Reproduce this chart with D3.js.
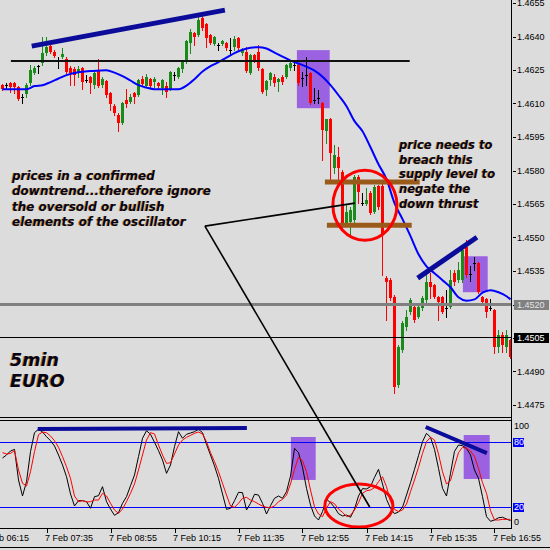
<!DOCTYPE html>
<html>
<head>
<meta charset="utf-8">
<title>EURO 5min</title>
<script src="https://cdn.jsdelivr.net/npm/d3@7/dist/d3.min.js"></script>
<style>
  html, body { margin: 0; padding: 0; background: #dcdcdc; }
  svg { display: block; }
</style>
</head>
<body>
<svg id="chart" width="550" height="550"></svg>
<script>
// ---------- 5-minute EUR bars, 7 Feb 06:40 .. 17:15 ----------
const opens = [1.46182,1.46182,1.46191,1.46191,1.46173,1.46128,1.46142,1.46191,1.46236,1.46267,
1.46281,1.46326,1.46357,1.46330,1.46294,1.46308,1.46299,1.46258,1.46254,1.46236,
1.46258,1.46205,1.46218,1.46182,1.46245,1.46182,1.46200,1.46146,1.46088,1.46048,
1.46012,1.46115,1.46106,1.46146,1.46137,1.46209,1.46178,1.46209,1.46196,1.46191,
1.46169,1.46178,1.46164,1.46227,1.46218,1.46254,1.46285,1.46370,1.46415,1.46406,
1.46482,1.46455,1.46406,1.46366,1.46361,1.46366,1.46370,1.46339,1.46352,1.46393,
1.46326,1.46330,1.46236,1.46317,1.46330,1.46254,1.46160,1.46205,1.46218,1.46196,
1.46218,1.46218,1.46258,1.46272,1.46272,1.46214,1.46227,1.46236,1.46115,1.46124,
1.46102,1.45976,1.46030,1.45810,1.45860,1.45792,1.45564,1.45568,1.45577,1.45770,
1.45654,1.45649,1.45698,1.45613,1.45730,1.45730,1.45318,1.45309,1.45232,1.44838,
1.44995,1.45098,1.45165,1.45188,1.45143,1.45183,1.45219,1.45300,1.45286,1.45232,
1.45232,1.45183,1.45188,1.45340,1.45309,1.45309,1.45456,1.45335,1.45385,1.45385,
1.45232,1.45223,1.45183,1.45174,1.45008,1.45062,1.45008,1.45040];

const highs = [1.46187,1.46191,1.46196,1.46196,1.46178,1.46142,1.46191,1.46272,1.46267,1.46272,
1.46397,1.46397,1.46366,1.46339,1.46308,1.46348,1.46308,1.46267,1.46263,1.46267,
1.46263,1.46227,1.46223,1.46245,1.46299,1.46218,1.46205,1.46151,1.46097,1.46057,
1.46106,1.46164,1.46142,1.46151,1.46209,1.46223,1.46231,1.46214,1.46218,1.46196,
1.46209,1.46196,1.46245,1.46240,1.46263,1.46294,1.46384,1.46433,1.46420,1.46487,
1.46491,1.46460,1.46411,1.46402,1.46370,1.46384,1.46375,1.46393,1.46402,1.46397,
1.46348,1.46352,1.46321,1.46321,1.46361,1.46258,1.46205,1.46240,1.46231,1.46214,
1.46227,1.46276,1.46285,1.46285,1.46276,1.46240,1.46308,1.46240,1.46169,1.46160,
1.46106,1.46030,1.46034,1.45913,1.45904,1.45801,1.45645,1.45636,1.45779,1.45779,
1.45698,1.45721,1.45707,1.45734,1.45734,1.45739,1.45327,1.45318,1.45241,1.45017,
1.45125,1.45174,1.45228,1.45197,1.45197,1.45237,1.45331,1.45340,1.45291,1.45237,
1.45237,1.45264,1.45353,1.45353,1.45389,1.45452,1.45488,1.45371,1.45412,1.45389,
1.45237,1.45228,1.45223,1.45179,1.45085,1.45076,1.45085,1.45044];

const lows = [1.46160,1.46169,1.46151,1.46146,1.46115,1.46102,1.46128,1.46182,1.46231,1.46236,
1.46272,1.46317,1.46326,1.46308,1.46258,1.46303,1.46236,1.46182,1.46182,1.46218,
1.46164,1.46196,1.46146,1.46169,1.46173,1.46173,1.46128,1.46070,1.46048,1.45976,
1.46007,1.46084,1.46102,1.46102,1.46133,1.46178,1.46173,1.46173,1.46173,1.46169,
1.46142,1.46128,1.46160,1.46205,1.46214,1.46240,1.46281,1.46326,1.46361,1.46402,
1.46429,1.46352,1.46366,1.46361,1.46339,1.46361,1.46339,1.46317,1.46339,1.46343,
1.46317,1.46240,1.46231,1.46285,1.46249,1.46146,1.46137,1.46182,1.46178,1.46155,
1.46187,1.46214,1.46249,1.46249,1.46182,1.46178,1.46182,1.46097,1.46102,1.46102,
1.45846,1.45922,1.45757,1.45788,1.45757,1.45537,1.45551,1.45501,1.45568,1.45654,
1.45645,1.45645,1.45604,1.45609,1.45627,1.45331,1.45129,1.45219,1.44802,1.44829,
1.44986,1.45085,1.45156,1.45120,1.45138,1.45174,1.45210,1.45228,1.45228,1.45129,
1.45161,1.45143,1.45183,1.45286,1.45300,1.45300,1.45322,1.45304,1.45353,1.45250,
1.45201,1.45143,1.45174,1.44982,1.44986,1.44986,1.44986,1.44959];

const closes = [1.46164,1.46182,1.46173,1.46173,1.46119,1.46128,1.46182,1.46249,1.46258,1.46267,
1.46326,1.46352,1.46330,1.46312,1.46294,1.46321,1.46240,1.46236,1.46227,1.46254,
1.46196,1.46205,1.46191,1.46236,1.46178,1.46209,1.46137,1.46097,1.46057,1.46012,
1.46102,1.46097,1.46128,1.46128,1.46205,1.46187,1.46218,1.46178,1.46209,1.46178,
1.46205,1.46151,1.46240,1.46227,1.46258,1.46290,1.46379,1.46420,1.46397,1.46473,
1.46438,1.46393,1.46370,1.46397,1.46361,1.46379,1.46348,1.46339,1.46388,1.46348,
1.46339,1.46245,1.46317,1.46294,1.46258,1.46151,1.46200,1.46236,1.46191,1.46209,
1.46196,1.46272,1.46281,1.46272,1.46191,1.46214,1.46227,1.46102,1.46115,1.46124,
1.45981,1.46030,1.45878,1.45869,1.45810,1.45546,1.45613,1.45622,1.45770,1.45703,
1.45654,1.45667,1.45609,1.45725,1.45636,1.45510,1.45300,1.45228,1.44829,1.45008,
1.45116,1.45143,1.45219,1.45129,1.45188,1.45228,1.45300,1.45277,1.45232,1.45210,
1.45165,1.45183,1.45309,1.45300,1.45353,1.45443,1.45331,1.45335,1.45385,1.45255,
1.45210,1.45165,1.45183,1.45008,1.45062,1.45017,1.45062,1.44964];

// moving average, sampled at these bars
const maBars = [0,6,8,10,12,14,16,19,22,26,28,30,32,34,36,38,44,46,48,50,52,54,56,58,60,62,64,66,68,70,
72,74,76,78,80,82,84,86,88,90,92,94,96,98,100,102,104,106,108,110,112,114,116,118,120,122,124,126,127];
const maValues = [1.46164,1.46164,1.46178,1.46182,1.46196,1.46212,1.46227,1.46240,1.46245,1.46249,
1.46238,1.46223,1.46203,1.46182,1.46171,1.46164,1.46164,1.46180,1.46209,1.46243,
1.46267,1.46285,1.46305,1.46326,1.46341,1.46350,1.46352,1.46346,1.46328,1.46310,
1.46292,1.46279,1.46265,1.46247,1.46220,1.46182,1.46137,1.46088,1.46021,1.45976,
1.45904,1.45828,1.45761,1.45654,1.45582,1.45506,1.45425,1.45371,1.45340,1.45309,
1.45277,1.45232,1.45217,1.45223,1.45253,1.45264,1.45255,1.45237,1.45223];

// stochastic oscillator: main (%K) and signal (%D)
const stochMain = [65.4,68.2,71.9,73.4,45.2,30.4,43.6,71.3,88.8,91.9,
89.4,85.1,81.4,76.5,68.2,59.0,48.2,32.3,21.2,26.1,
26.1,25.2,19.1,29.8,30.7,39.0,25.2,18.4,12.6,15.1,
23.7,29.8,39.9,49.8,66.7,83.6,90.6,87.3,79.9,72.2,
63.6,51.3,59.0,75.9,89.7,83.6,87.3,88.5,89.7,91.9,
88.8,78.0,68.2,58.1,46.7,32.3,18.1,19.1,26.1,33.8,
33.5,17.5,23.7,32.0,31.3,23.7,13.8,21.5,28.3,30.4,
28.3,34.4,48.8,74.3,70.4,56.8,37.5,22.1,12.0,8.3,
16.0,27.3,24.3,20.0,14.1,12.0,12.9,10.8,18.4,30.4,
37.2,36.9,39.0,47.6,55.0,41.5,27.3,19.1,14.1,15.7,
20.0,31.3,42.7,55.0,67.6,80.5,88.2,84.5,73.4,55.9,
37.5,30.4,51.3,71.6,77.4,76.8,74.3,68.2,54.4,46.7,
29.8,11.4,7.1,8.3,10.4,10.8,9.2,7.7];
const stochSignal = [70.4,69.1,69.7,72.2,54.4,42.1,39.6,52.8,71.3,86.9,
89.4,88.8,85.7,81.4,75.3,66.7,57.4,46.7,30.4,25.2,
26.1,24.9,25.2,26.7,26.7,32.9,30.4,23.7,17.5,14.4,
18.4,25.2,32.9,41.5,54.4,68.2,82.0,88.8,87.6,77.4,
68.2,60.5,61.1,69.1,77.4,82.0,84.5,86.3,88.2,89.4,
87.6,80.5,70.4,62.1,52.8,42.1,31.3,21.2,20.0,23.7,
28.3,29.2,26.7,25.2,23.0,21.2,20.0,19.7,21.2,25.2,
27.3,31.3,41.5,55.0,66.1,63.0,52.8,35.9,20.6,13.8,
11.4,19.1,25.2,23.3,18.4,15.4,11.4,12.6,17.5,24.3,
32.9,35.3,35.9,38.1,43.6,48.2,39.0,25.2,18.1,16.0,
17.5,23.0,34.4,45.2,56.8,69.7,80.5,84.5,82.0,69.1,
52.8,41.5,44.5,58.1,70.4,75.3,74.3,71.9,66.7,55.9,
42.7,32.9,16.9,8.3,8.3,8.9,8.9,8.9];

const priceTicks = [1.4655,1.4640,1.4625,1.4610,1.4595,1.4580,1.4565,1.4550,1.4535,1.4520,1.4505,1.4490,1.4475];
const timeTickBars = [-5,11,27,43,59,75,91,107,123];
const timeTickLabels = ["7 Feb 06:15","7 Feb 07:35","7 Feb 08:55","7 Feb 10:15","7 Feb 11:35",
                        "7 Feb 12:55","7 Feb 14:15","7 Feb 15:35","7 Feb 16:55"];
const oscTicks = [100, 80, 20, 0];
const oscLevels = [80, 20];
const levelLine = 1.4520;   // horizontal line object (grey)
const bidLine = 1.4505;     // current price line
const resistance = 1.4629;  // black horizontal line

// ---------- geometry ----------
const W = 550, H = 550;
const axisX = 511;
const mainBottom = 417, oscTop = 420, oscBottom = 528;

const x = d3.scaleLinear().domain([0, 127]).range([2.5, 510.5]);
const y = d3.scaleLinear().domain([1.4475, 1.4655]).range([405, 3]);
const yo = d3.scaleLinear().domain([0, 100]).range([529, 420.5]);

const svg = d3.select('#chart');
svg.append('rect').attr('width', W).attr('height', H).attr('fill', '#dcdcdc');

const defs = svg.append('defs');
defs.append('clipPath').attr('id', 'clipMain')
  .append('rect').attr('x', 0).attr('y', 0).attr('width', axisX).attr('height', mainBottom);
defs.append('clipPath').attr('id', 'clipOsc')
  .append('rect').attr('x', 0).attr('y', oscTop).attr('width', axisX).attr('height', oscBottom - oscTop);

const GREEN = '#1a8a1a', RED = '#ff0000', PURPLE = '#9a62e0', NAVY = '#0c0c9a', BROWN = '#9a5a1a';

// ---------- main price panel ----------
const main = svg.append('g').attr('clip-path', 'url(#clipMain)');

// highlighted zones (behind the bars)
const mainZones = [
  { i0: 73.6, i1: 81.8, p0: 1.46339, p1: 1.46079 },
  { i0: 115.1, i1: 121.3, p0: 1.45416, p1: 1.45255 }
];
main.selectAll('rect.zone').data(mainZones).join('rect')
  .attr('class', 'zone')
  .attr('x', d => x(d.i0)).attr('width', d => x(d.i1) - x(d.i0))
  .attr('y', d => y(d.p0)).attr('height', d => y(d.p1) - y(d.p0))
  .attr('fill', PURPLE);

// candles
const bars = d3.range(opens.length).map(i => ({
  i, o: opens[i], h: highs[i], l: lows[i], c: closes[i]
}));
const colorOf = d => d.c > d.o ? GREEN : (d.c < d.o ? RED : '#000');

const candles = main.append('g').attr('shape-rendering', 'crispEdges');
candles.selectAll('line.wick').data(bars).join('line')
  .attr('class', 'wick')
  .attr('x1', d => x(d.i)).attr('x2', d => x(d.i))
  .attr('y1', d => Math.round(y(d.h))).attr('y2', d => Math.round(y(d.l)) + 1)
  .attr('stroke', colorOf).attr('stroke-width', 1);
candles.selectAll('rect.body').data(bars).join('rect')
  .attr('class', 'body')
  .attr('x', d => x(d.i) - 1.5)
  .attr('width', 3)
  .attr('y', d => Math.round(y(Math.max(d.o, d.c))))
  .attr('height', d => Math.max(1, Math.round(y(Math.min(d.o, d.c))) - Math.round(y(Math.max(d.o, d.c)))))
  .attr('fill', colorOf);

// moving average
const maLine = d3.line()
  .x((d, k) => x(maBars[k]))
  .y(d => y(d))
  .curve(d3.curveMonotoneX);
main.append('path').attr('d', maLine(maValues))
  .attr('fill', 'none').attr('stroke', '#0000ff').attr('stroke-width', 2);

// horizontal levels
main.append('line')
  .attr('x1', 0).attr('x2', axisX).attr('y1', y(levelLine)).attr('y2', y(levelLine))
  .attr('stroke', '#808080').attr('stroke-width', 3);
main.append('line')
  .attr('x1', 0).attr('x2', axisX)
  .attr('y1', Math.round(y(bidLine)) - 0.5).attr('y2', Math.round(y(bidLine)) - 0.5)
  .attr('stroke', '#000').attr('stroke-width', 1);
main.append('line')
  .attr('x1', x(2.1)).attr('x2', x(101.8)).attr('y1', y(resistance)).attr('y2', y(resistance))
  .attr('stroke', '#111').attr('stroke-width', 2);

// supply band edges
const supplyEdges = [
  { i0: 80.6, i1: 104.3, p: 1.45748 },
  { i0: 81.1, i1: 102.3, p: 1.45555 }
];
main.selectAll('line.supply').data(supplyEdges).join('line')
  .attr('class', 'supply')
  .attr('x1', d => x(d.i0)).attr('x2', d => x(d.i1))
  .attr('y1', d => y(d.p)).attr('y2', d => y(d.p))
  .attr('stroke', BROWN).attr('stroke-width', 5);

// trend lines
const mainTrends = [
  { i0: 7.3, p0: 1.46357, i1: 55.6, p1: 1.46518 },
  { i0: 103.8, p0: 1.45318, i1: 118.6, p1: 1.45501 }
];
main.selectAll('line.trend').data(mainTrends).join('line')
  .attr('class', 'trend')
  .attr('x1', d => x(d.i0)).attr('y1', d => y(d.p0))
  .attr('x2', d => x(d.i1)).attr('y2', d => y(d.p1))
  .attr('stroke', NAVY).attr('stroke-width', 5);

// consolidation ellipse
const mainRing = { i0: 82.6, i1: 98.6, p0: 1.45801, p1: 1.45488 };
main.append('ellipse')
  .attr('cx', (x(mainRing.i0) + x(mainRing.i1)) / 2)
  .attr('cy', (y(mainRing.p0) + y(mainRing.p1)) / 2)
  .attr('rx', (x(mainRing.i1) - x(mainRing.i0)) / 2)
  .attr('ry', (y(mainRing.p1) - y(mainRing.p0)) / 2)
  .attr('fill', 'none').attr('stroke', '#ff0000').attr('stroke-width', 3);

// ---------- oscillator panel ----------
const osc = svg.append('g').attr('clip-path', 'url(#clipOsc)');

const oscZones = [
  { i0: 72.1, i1: 78.3, v0: 84.8, v1: 45.2 },
  { i0: 115.3, i1: 121.8, v0: 86.6, v1: 46.1 }
];
osc.selectAll('rect.zone').data(oscZones).join('rect')
  .attr('class', 'zone')
  .attr('x', d => x(d.i0)).attr('width', d => x(d.i1) - x(d.i0))
  .attr('y', d => yo(d.v0)).attr('height', d => yo(d.v1) - yo(d.v0))
  .attr('fill', PURPLE);

osc.selectAll('line.level').data(oscLevels).join('line')
  .attr('class', 'level')
  .attr('x1', 0).attr('x2', axisX)
  .attr('y1', d => Math.round(yo(d)) + 0.5).attr('y2', d => Math.round(yo(d)) + 0.5)
  .attr('stroke', '#0000ff').attr('stroke-width', 1);

const stochLine = d3.line().x((d, i) => x(i)).y(d => yo(d));
osc.append('path').attr('d', stochLine(stochMain))
  .attr('fill', 'none').attr('stroke', '#000').attr('stroke-width', 1);
osc.append('path').attr('d', stochLine(stochSignal))
  .attr('fill', 'none').attr('stroke', '#ff0000').attr('stroke-width', 1);

const oscTrends = [
  { i0: 8.8, v0: 92.2, i1: 61.1, v1: 93.1 },
  { i0: 105.8, v0: 94.0, i1: 121.1, v1: 70.0 }
];
osc.selectAll('line.trend').data(oscTrends).join('line')
  .attr('class', 'trend')
  .attr('x1', d => x(d.i0)).attr('y1', d => yo(d.v0))
  .attr('x2', d => x(d.i1)).attr('y2', d => yo(d.v1))
  .attr('stroke', NAVY).attr('stroke-width', 4);

const oscRing = { i0: 80.6, i1: 97.6, v0: 41.5, v1: 1.8 };
osc.append('ellipse')
  .attr('cx', (x(oscRing.i0) + x(oscRing.i1)) / 2)
  .attr('cy', (yo(oscRing.v0) + yo(oscRing.v1)) / 2)
  .attr('rx', (x(oscRing.i1) - x(oscRing.i0)) / 2)
  .attr('ry', (yo(oscRing.v1) - yo(oscRing.v0)) / 2)
  .attr('fill', 'none').attr('stroke', '#ff0000').attr('stroke-width', 3);

// ---------- frames and axes ----------
const frame = svg.append('g').attr('shape-rendering', 'crispEdges').attr('stroke', '#000');
frame.append('line').attr('x1', axisX + 0.5).attr('x2', axisX + 0.5).attr('y1', 0).attr('y2', oscBottom + 1);
frame.append('line').attr('x1', 0).attr('x2', axisX).attr('y1', mainBottom + 0.5).attr('y2', mainBottom + 0.5);
frame.append('line').attr('x1', 0).attr('x2', axisX).attr('y1', oscTop + 0.5).attr('y2', oscTop + 0.5);
frame.append('line').attr('x1', 0).attr('x2', axisX).attr('y1', oscBottom + 0.5).attr('y2', oscBottom + 0.5);
frame.append('line').attr('x1', 0).attr('x2', W).attr('y1', 547.5).attr('y2', 547.5);

const AXIS_FONT = '"Liberation Sans", Arial, sans-serif';

// price axis
const pAxis = svg.append('g');
pAxis.selectAll('line').data(priceTicks).join('line')
  .attr('x1', axisX + 2).attr('x2', axisX + 5)
  .attr('y1', d => Math.round(y(d)) + 0.5).attr('y2', d => Math.round(y(d)) + 0.5)
  .attr('stroke', '#000').attr('shape-rendering', 'crispEdges');
pAxis.selectAll('text').data(priceTicks).join('text')
  .attr('x', axisX + 6).attr('y', d => y(d)).attr('dy', '0.35em')
  .attr('font-family', AXIS_FONT).attr('font-size', 9).attr('fill', '#000')
  .text(d => d.toFixed(4));

// price tags for the two horizontal lines
const tags = [
  { p: levelLine, bg: '#808080', fg: '#e4e4e4' },
  { p: bidLine, bg: '#000000', fg: '#ffffff' }
];
const tagG = svg.append('g');
tagG.selectAll('rect').data(tags).join('rect')
  .attr('x', axisX + 3).attr('width', 35)
  .attr('y', d => Math.round(y(d.p)) - 5).attr('height', 10)
  .attr('fill', d => d.bg);
tagG.selectAll('text').data(tags).join('text')
  .attr('x', axisX + 6).attr('y', d => y(d.p)).attr('dy', '0.35em')
  .attr('font-family', AXIS_FONT).attr('font-size', 9).attr('fill', d => d.fg)
  .text(d => d.p.toFixed(4));

// oscillator axis
const oAxis = svg.append('g');
const oscLabelY = v => Math.min(Math.max(yo(v), oscTop + 6), oscBottom - 6);
oAxis.selectAll('rect').data(oscLevels).join('rect')
  .attr('x', axisX + 2).attr('width', 11)
  .attr('y', d => Math.round(yo(d)) - 4).attr('height', 9)
  .attr('fill', '#0000ff');
oAxis.selectAll('text').data(oscTicks).join('text')
  .attr('x', axisX + 3).attr('y', d => oscLabelY(d)).attr('dy', '0.35em')
  .attr('font-family', AXIS_FONT).attr('font-size', 9)
  .attr('fill', d => oscLevels.includes(d) ? '#fff' : '#000')
  .text(d => d);

// time axis
const tAxis = svg.append('g');
tAxis.selectAll('line').data(timeTickBars).join('line')
  .attr('x1', d => Math.round(x(d)) + 0.5).attr('x2', d => Math.round(x(d)) + 0.5)
  .attr('y1', oscBottom + 1).attr('y2', oscBottom + 5)
  .attr('stroke', '#000').attr('shape-rendering', 'crispEdges');
tAxis.selectAll('text').data(timeTickBars).join('text')
  .attr('x', d => x(d) - 1.5).attr('y', 541)
  .attr('font-family', AXIS_FONT).attr('font-size', 9).attr('fill', '#000')
  .text((d, k) => timeTickLabels[k]);

// ---------- pointer lines from the note ----------
const noteAnchor = { i: 50.6, p: 1.45551 };
const pointers = svg.append('g').attr('stroke', '#000').attr('stroke-width', 1.6);
pointers.append('line')
  .attr('x1', x(noteAnchor.i)).attr('y1', y(noteAnchor.p))
  .attr('x2', x(88.1)).attr('y2', y(1.45654));
pointers.append('line')
  .attr('x1', x(noteAnchor.i)).attr('y1', y(noteAnchor.p))
  .attr('x2', x(91.8)).attr('y2', yo(20.3));

// ---------- notes ----------
const NOTE_FONT = '"DejaVu Sans", Verdana, sans-serif';
function note(lines, x0, y0, step, size) {
  const g = svg.append('g')
    .attr('font-family', NOTE_FONT).attr('font-weight', 'bold')
    .attr('font-style', 'italic').attr('font-size', size);
  lines.forEach((t, k) => {
    g.append('text').attr('x', x0 - 0.8).attr('y', y0 + k * step)
      .attr('fill', '#c8882a').text(t);
    g.append('text').attr('x', x0).attr('y', y0 + k * step)
      .attr('fill', '#05051a').text(t);
  });
}
note(['prices in a confirmed', 'downtrend...therefore ignore', 'the oversold or bullish', 'elements of the oscillator'],
     12, 180, 15.4, 12);
note(['price needs to', 'breach this', 'supply level to', 'negate the', 'down thrust'],
     399, 149, 14.7, 11.6);
note(['5min', 'EURO'], 10, 366, 21, 17.5);
</script>
</body>
</html>
